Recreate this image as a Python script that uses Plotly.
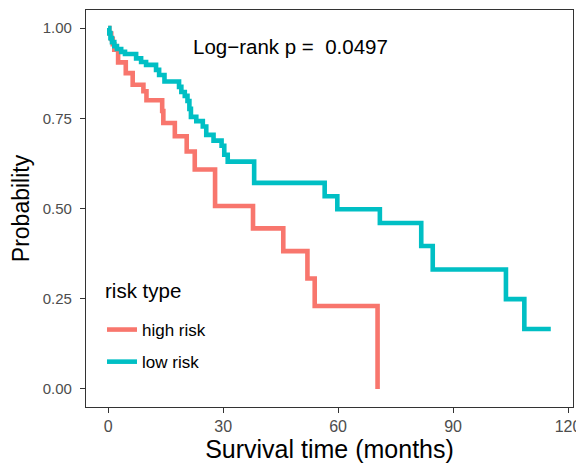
import plotly.graph_objects as go

# Kaplan-Meier step data
high_time = [0, 0.3, 0.8, 1.2, 1.6, 2.6, 4.6, 6.4, 9.2, 10.0, 14.1, 14.4, 17.4, 20.5,
             22.6, 27.9, 37.8, 45.7, 52.0, 53.9, 70.3]
high_surv = [1.0, 0.985, 0.97, 0.955, 0.94, 0.905, 0.875, 0.843, 0.825, 0.80, 0.77, 0.737,
             0.70, 0.658, 0.608, 0.507, 0.445, 0.382, 0.306, 0.23, 0.0]

low_time = [0, 0.3, 0.6, 1.0, 1.6, 2.3, 3.4, 4.4, 7.3, 8.6, 9.9, 12.5, 13.3, 14.7, 18.5,
            19.1, 20.0, 20.7, 21.2, 21.6, 23.0, 24.7, 25.6, 27.5, 29.6, 30.3, 31.2, 38.1,
            56.5, 59.8, 70.9, 81.7, 84.7, 103.8, 108.6, 115.5]
low_surv = [1.0, 0.986, 0.972, 0.961, 0.95, 0.942, 0.934, 0.928, 0.916, 0.906, 0.898, 0.884,
            0.87, 0.852, 0.837, 0.823, 0.812, 0.798, 0.776, 0.754, 0.742, 0.727, 0.704, 0.688,
            0.674, 0.649, 0.63, 0.571, 0.534, 0.498, 0.46, 0.396, 0.331, 0.249, 0.166, 0.166]

x_ticks = [0, 30, 60, 90, 120]
y_ticks = [0.0, 0.25, 0.5, 0.75, 1.0]
y_tick_labels = ["0.00", "0.25", "0.50", "0.75", "1.00"]
pvalue_text = "Log\u2212rank p =  0.0497"
legend_title = "risk type"

FONT = "Liberation Sans, Arial, sans-serif"
RED = "#F8766D"
CYAN = "#00BFC4"

# page body has an 8px margin: figure is sized so the panel lands where the reference has it
OFF = 8
W, H = 584 - OFF, 466 - OFF
PL, PR, PT, PB = 86 - OFF, 573 - OFF, 10 - OFF, 407 - OFF   # panel edges inside the figure
PW, PH = PR - PL, PB - PT

fig = go.Figure()
fig.add_trace(go.Scatter(x=high_time, y=high_surv, mode="lines", line_shape="hv",
                         line=dict(color=RED, width=4.6), name="high risk",
                         legendgroup="high"))
fig.add_trace(go.Scatter(x=low_time, y=low_surv, mode="lines", line_shape="hv",
                         line=dict(color=CYAN, width=4.6), name="low risk",
                         legendgroup="low"))

fig.add_annotation(x=47.7, y=0.948, xref="x", yref="y", text=pvalue_text, showarrow=False,
                   xanchor="center", yanchor="middle",
                   font=dict(family=FONT, size=20.5, color="black"))

# legend title placed as text
fig.add_annotation(x=(103 - 86) / PW, y=(407 - 290) / PH, xref="paper", yref="paper",
                   text=legend_title, showarrow=False, xanchor="left", yanchor="middle",
                   font=dict(family=FONT, size=20.5, color="black"))

fig.update_layout(
    width=W, height=H,
    margin=dict(l=PL, r=W - PR, t=PT, b=H - PB),
    paper_bgcolor="white", plot_bgcolor="white",
    font=dict(family=FONT),
    showlegend=True,
    legend=dict(x=(102 - 86) / PW, y=(407 - 312) / PH, xanchor="left", yanchor="top",
                bgcolor="rgba(0,0,0,0)",
                font=dict(family=FONT, size=17, color="black"),
                tracegroupgap=7, itemwidth=30),
    xaxis=dict(range=[-5.78, 121.3], tickvals=x_ticks, ticks="outside", ticklen=5,
               tickcolor="#333333", showline=True, linecolor="#333333", linewidth=1.2,
               mirror=True, showgrid=False, zeroline=False, automargin=False,
               tickfont=dict(family=FONT, size=16, color="#4D4D4D"),
               title=dict(text="Survival time (months)", standoff=4,
                          font=dict(family=FONT, size=25, color="black"))),
    yaxis=dict(range=[-0.05, 1.05], tickvals=y_ticks, ticktext=y_tick_labels,
               ticks="outside", ticklen=5, tickcolor="#333333", showline=True,
               linecolor="#333333", linewidth=1.2, mirror=True, showgrid=False,
               zeroline=False, automargin=False, ticklabelstandoff=5,
               tickfont=dict(family=FONT, size=15, color="#4D4D4D"),
               title=dict(text="Probability", standoff=6,
                          font=dict(family=FONT, size=23, color="black"))),
)

fig.write_html("out.html")
